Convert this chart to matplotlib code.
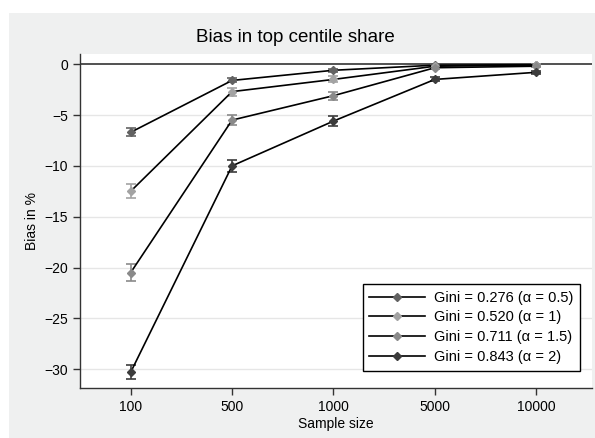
import matplotlib
matplotlib.use("Agg")
import matplotlib.pyplot as plt
from matplotlib.patches import Rectangle
import numpy as np

plt.rcParams['font.family'] = ['Liberation Sans', 'DejaVu Sans']

sample_sizes = ["100", "500", "1000", "5000", "10000"]
labels = ["Gini = 0.276 (α = 0.5)", "Gini = 0.520 (α = 1)",
          "Gini = 0.711 (α = 1.5)", "Gini = 0.843 (α = 2)"]
bias_s1 = [-6.7, -1.6, -0.6, -0.1, -0.05]
bias_s2 = [-12.5, -2.7, -1.5, -0.2, -0.1]
bias_s3 = [-20.5, -5.5, -3.1, -0.35, -0.2]
bias_s4 = [-30.3, -10.0, -5.6, -1.5, -0.8]
err_s1 = [0.4, 0.2, 0.15, 0.1, 0.08]
err_s2 = [0.7, 0.4, 0.3, 0.12, 0.1]
err_s3 = [0.8, 0.5, 0.4, 0.15, 0.12]
err_s4 = [0.7, 0.6, 0.5, 0.2, 0.15]
colors = ['#626262', '#a3a3a3', '#8a8a8a', '#3c3c3c']

W, H = 595, 438
fig = plt.figure(figsize=(W/100, H/100), dpi=100)
fig.patch.set_facecolor('white')
fig.add_artist(Rectangle((9/W, 0), 1 - 9/W, 1 - 13/H, transform=fig.transFigure,
                         facecolor='#eff0f0', edgecolor='none', zorder=-10))

ax = fig.add_axes([80/W, 1 - 388/H, (592-80)/W, (388-54)/H])
ax.set_facecolor('white')

x = np.arange(len(sample_sizes))
series = [bias_s1, bias_s2, bias_s3, bias_s4]
errs = [err_s1, err_s2, err_s3, err_s4]

ax.axhline(0, color='#333333', lw=1.2, zorder=1)
for yv in [-5, -10, -15, -20, -25, -30]:
    ax.axhline(yv, color='#e6e6e6', lw=1.0, zorder=0)

handles = []
for s, e, c, lab in zip(series, errs, colors, labels):
    ax.errorbar(x, s, yerr=e, fmt='none', ecolor=c, elinewidth=1.2,
                capsize=3.5, capthick=1.2, zorder=3)
    h, = ax.plot(x, s, color='black', lw=1.2, marker='D', markersize=4.2,
                 markerfacecolor=c, markeredgecolor=c, zorder=4, label=lab)
    handles.append(h)

ax.set_xlim(-0.5, 4.55)
ax.set_ylim(-31.85, 1.0)
ax.set_xticks(x)
ax.set_xticklabels(sample_sizes)
ax.set_yticks([0, -5, -10, -15, -20, -25, -30])
ax.set_yticklabels(['0', '\u22125', '\u221210', '\u221215', '\u221220', '\u221225', '\u221230'])
ax.tick_params(axis='both', labelsize=10, length=5, width=1, color='#333333')

for sp in ['top', 'right']:
    ax.spines[sp].set_visible(False)
for sp in ['left', 'bottom']:
    ax.spines[sp].set_color('#333333')
    ax.spines[sp].set_linewidth(1.0)

ax.set_xlabel('Sample size', fontsize=10, labelpad=2)
ax.set_ylabel('Bias in %', fontsize=10, labelpad=4)
fig.text(0.497, 1 - 38/H, 'Bias in top centile share', ha='center', va='center', fontsize=13.5)

leg = ax.legend(handles=handles, loc='lower right', bbox_to_anchor=(0.99, 0.03),
                fontsize=10.5, frameon=True, fancybox=False, edgecolor='black',
                handlelength=3.8, handletextpad=0.6, borderpad=0.45,
                labelspacing=0.4, framealpha=1)
leg.get_frame().set_linewidth(1.0)

fig.savefig('out.png', dpi=100)
